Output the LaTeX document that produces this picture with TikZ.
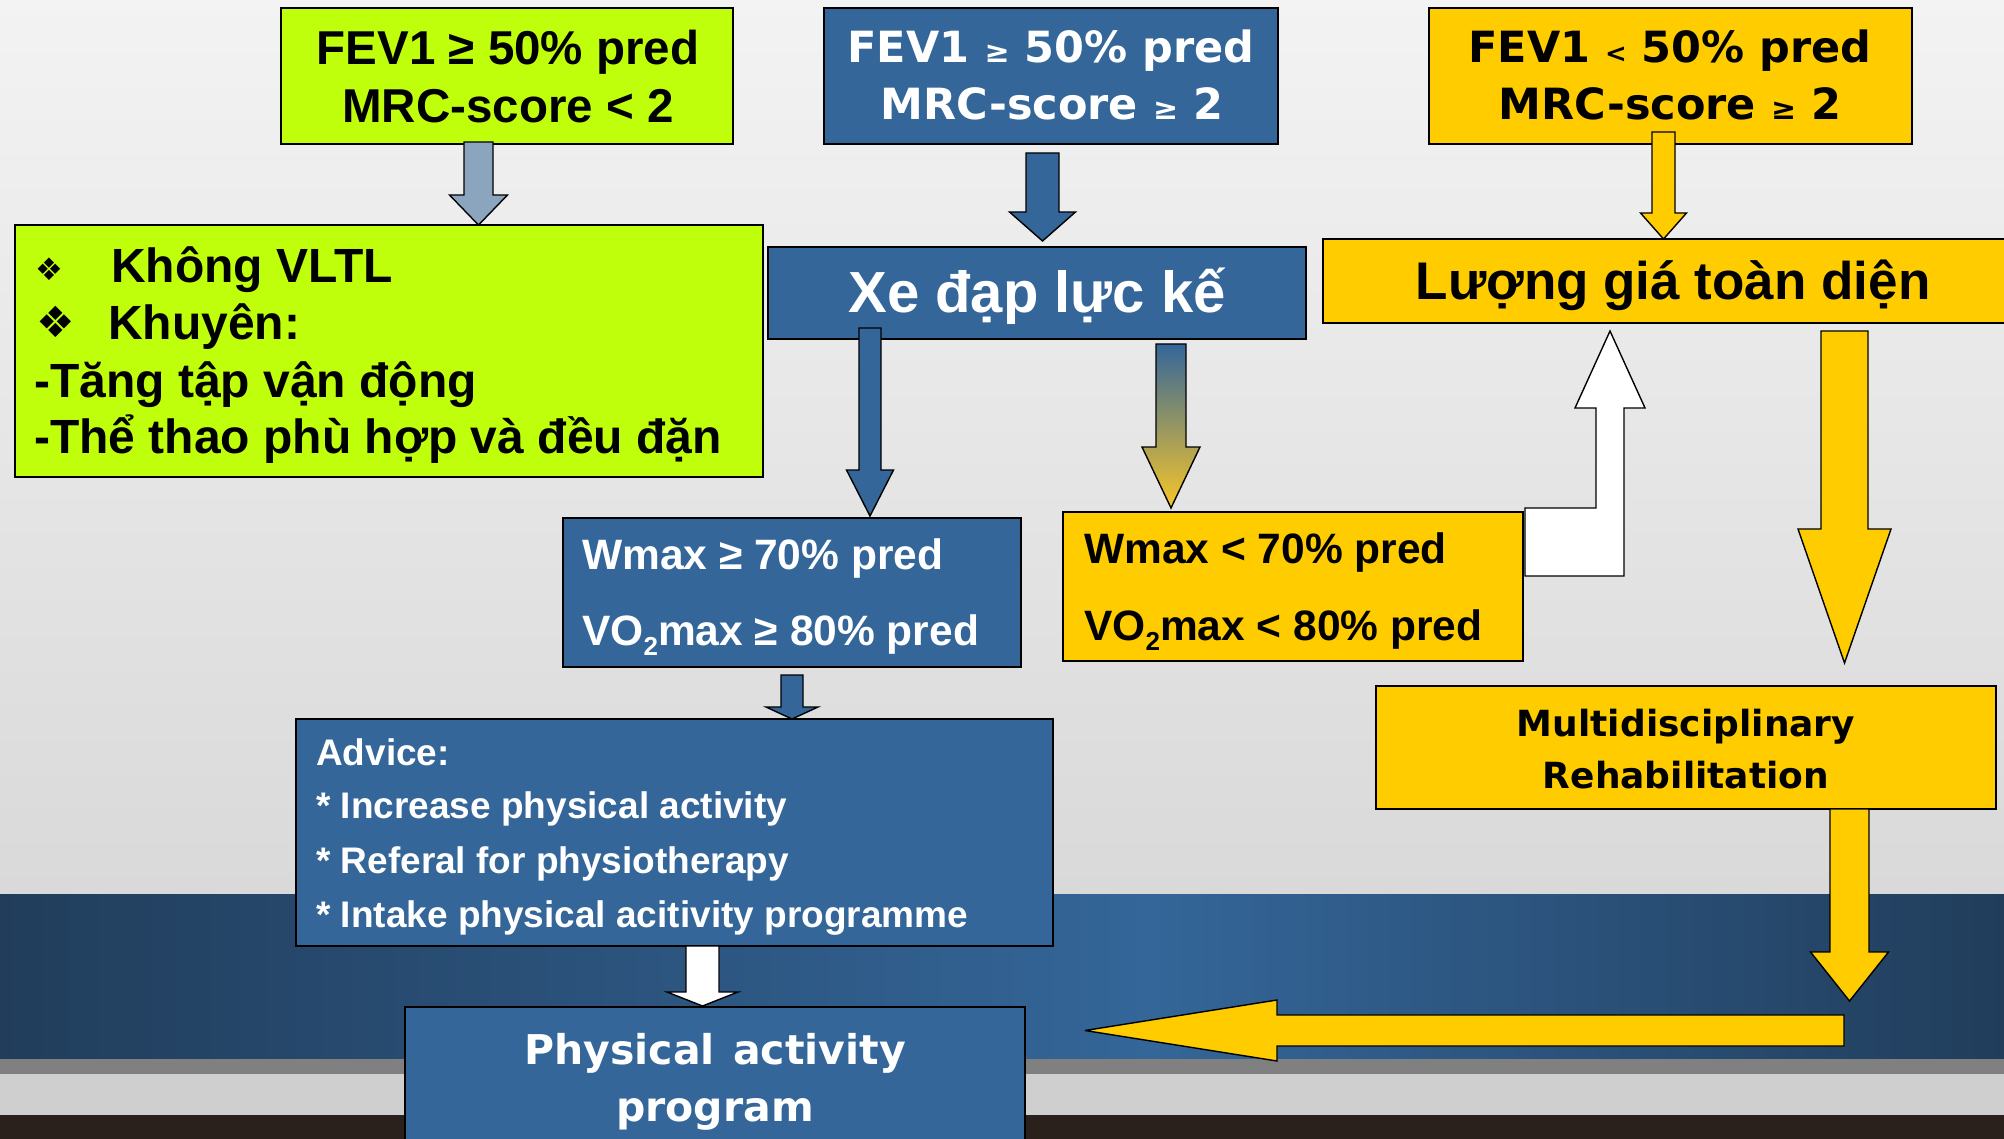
\documentclass[tikz,border=0pt]{standalone}
\usepackage{fontspec}
\setmainfont{Liberation Sans}
\newfontfamily\comic{DejaVu Sans}
\newfontfamily\dvs{DejaVu Sans}
\usetikzlibrary{calc}
\definecolor{limeg}{HTML}{C0FF0C}
\definecolor{pblue}{HTML}{346699}
\definecolor{pyel}{HTML}{FFCC00}
\definecolor{gblue}{HTML}{8CA5BE}
\definecolor{goldc}{HTML}{F7C62A}
\definecolor{bandd}{HTML}{213D5B}
\definecolor{bgtop}{HTML}{F3F3F3}
\definecolor{bgbot}{HTML}{D9D9D9}
\definecolor{stripc}{HTML}{808080}
\definecolor{lgrey}{HTML}{CFCFCF}
\definecolor{dbrown}{HTML}{2B211C}
% vertical block arrow pointing down: style, from, to, shaft half, head half, head length
\newcommand\barrdown[6]{\path[#1] let \p1=(#2), \p2=(#3) in
  (\x1-#4,\y1) -- (\x1-#4,\y2+#6) -- (\x1-#5,\y2+#6) -- (\x1,\y2)
  -- (\x1+#5,\y2+#6) -- (\x1+#4,\y2+#6) -- (\x1+#4,\y1) -- cycle;}
% horizontal block arrow pointing left
\newcommand\barrleft[6]{\path[#1] let \p1=(#2), \p2=(#3) in
  (\x1,\y1+#4) -- (\x2+#6,\y1+#4) -- (\x2+#6,\y1+#5) -- (\x2,\y1)
  -- (\x2+#6,\y1-#5) -- (\x2+#6,\y1-#4) -- (\x1,\y1-#4) -- cycle;}
\newcommand\sge{{\fontsize{30}{30}\selectfont ≥}}
\newcommand\slt{{\fontsize{26}{26}\selectfont <}}
\newcommand\subtwo{\raisebox{-10pt}{\fontsize{26}{26}\selectfont 2}}
\begin{document}
\begin{tikzpicture}[x=1pt,y=-1pt,
  box/.style={draw=black, line width=1.8pt, anchor=north west, inner sep=0pt, outer sep=0pt},
  arrw/.style={draw=black, line width=1.4pt, line join=miter, miter limit=6},
  tA/.style={font=\fontsize{47.5}{47.5}\selectfont\bfseries, inner sep=0pt, anchor=base},
  tC/.style={font=\fontsize{43}{43}\selectfont\comic\bfseries, inner sep=0pt, anchor=base},
  tD/.style={font=\fontsize{48}{48}\selectfont\bfseries, inner sep=0pt, anchor=base west},
  tW/.style={font=\fontsize{42.5}{42.5}\selectfont\bfseries, inner sep=0pt, anchor=base west},
  tJ/.style={font=\fontsize{37}{37}\selectfont\bfseries, inner sep=0pt, anchor=base west, text=white},
  tM/.style={font=\fontsize{36}{36}\selectfont\comic\bfseries, inner sep=0pt, anchor=base},
  bul/.style={font=\dvs, inner sep=0pt, anchor=center}
]
\useasboundingbox (0,0) rectangle (2004,1139);
\clip (0,0) rectangle (2004,1139);
% background
\path[top color=bgtop, bottom color=bgbot] (0,0) rectangle (2004,894);
\path[left color=bandd, right color=pblue] (0,894) rectangle (1150,1059);
\path[left color=pblue, right color=bandd] (1149,894) rectangle (2004,1059);
\fill[stripc] (0,1059) rectangle (2004,1074);
\fill[lgrey] (0,1074) rectangle (2004,1115);
\fill[dbrown] (0,1115) rectangle (2004,1139);

% boxes
\node[box, fill=limeg, minimum width=452pt, minimum height=136pt] (A) at (281,8) {};
\node[box, fill=pblue, minimum width=454pt, minimum height=136pt] (B) at (824,8) {};
\node[box, fill=pyel, minimum width=483pt, minimum height=136pt] (C) at (1429,8) {};
\node[box, fill=limeg, minimum width=748pt, minimum height=252pt] (D) at (15,225) {};
\node[box, fill=pblue, minimum width=538pt, minimum height=92pt] (E) at (768,247) {};
\node[box, fill=pyel, minimum width=690pt, minimum height=84pt] (F) at (1323,239) {};
\node[box, fill=pblue, minimum width=458pt, minimum height=149pt] (G) at (563,518) {};
\node[box, fill=pyel, minimum width=460pt, minimum height=149pt] (H) at (1063,512) {};
\node[box, fill=pyel, minimum width=620pt, minimum height=123pt] (I) at (1376,686) {};
\node[box, fill=pblue, minimum width=757pt, minimum height=227pt] (J) at (296,719) {};
\node[box, fill=pblue, minimum width=620pt, minimum height=160pt] (K) at (405,1007) {};

% texts
\node[tA] (A1) at (508,65) {FEV1 ≥ 50\% pred};
\node[tA] (A2) at (508,123) {MRC-score < 2};
\node[tC, text=white] (B1) at (1051,63) {FEV1 \sge{} 50\% pred};
\node[tC, text=white] (B2) at (1052,120) {MRC-score \sge{} 2};
\node[tC] (C1) at (1670,63) {FEV1 \slt{} 50\% pred};
\node[tC] (C2) at (1670,120) {MRC-score \sge{} 2};
\node[bul, font=\dvs\fontsize{31}{31}\selectfont] (Db1) at (49.5,269) {❖};
\node[bul, font=\dvs\fontsize{43}{43}\selectfont] (Db2) at (56,322) {❖};
\node[tD] (D1) at (111,283) {Không VLTL};
\node[tD] (D2) at (108,339) {Khuyên:};
\node[tD] (D3) at (34,397) {-Tăng tập vận động};
\node[tD] (D4) at (34,453) {-Thể thao phù hợp và đều đặn};
\node[tA, font=\fontsize{58}{58}\selectfont\bfseries, text=white] (E1) at (1037,313) {Xe đạp lực kế};
\node[tA, font=\fontsize{53}{53}\selectfont\bfseries] (F1) at (1673,300) {Lượng giá toàn diện};
\node[tW, text=white] (G1) at (582,569) {Wmax ≥ 70\% pred};
\node[tW, text=white] (G2) at (582,645) {VO\subtwo max ≥ 80\% pred};
\node[tW] (H1) at (1084,563) {Wmax < 70\% pred};
\node[tW] (H2) at (1084,640) {VO\subtwo max < 80\% pred};
\node[tM] (I1) at (1686,736) {Multidisciplinary};
\node[tM] (I2) at (1686,788) {Rehabilitation};
\node[tJ] (J1) at (316,765) {Advice:};
\node[tJ] (J2) at (316,818) {* Increase physical activity};
\node[tJ] (J3) at (316,873) {* Referal for physiotherapy};
\node[tJ] (J4) at (316,927) {* Intake physical acitivity programme};
\node[tC, font=\fontsize{41}{41}\selectfont\comic\bfseries, text=white] (K1) at (715,1064) {Physical\hspace{4pt} activity};
\node[tC, font=\fontsize{41}{41}\selectfont\comic\bfseries, text=white] (K2) at (715,1121) {program};

% free ends
\coordinate (turn) at (1849.5,1001);
\coordinate (lstart) at (1844,1030.5);
\coordinate (ltip) at (1085,1030.5);
\coordinate (hs) at ([xshift=2pt,yshift=4pt]H.north east);
\coordinate (ft) at ([xshift=-58pt,yshift=-8pt]F.south);

% connectors (block arrows)
\barrdown{arrw, fill=gblue}{[xshift=-28.5pt,yshift=2pt]A.south}{D.north}{14.5pt}{29pt}{30pt}
\barrdown{arrw, fill=pblue}{[xshift=-8.5pt,yshift=-9pt]B.south}{[yshift=6pt]E.north}{16.5pt}{33pt}{29pt}
\barrdown{arrw, fill=pyel}{[xshift=-7pt,yshift=12pt]C.south}{F.north}{11.5pt}{23pt}{26pt}
\barrdown{arrw, fill=pblue}{[xshift=-167pt,yshift=11pt]E.south}{[yshift=2pt]G.north}{11pt}{23.5pt}{46pt}
\barrdown{arrw, top color=pblue, bottom color=goldc}{[xshift=134pt,yshift=-5pt]E.south}{[yshift=4pt]H.north}{15pt}{29pt}{61pt}
\path[arrw, fill=white] let \p1=(hs), \p2=(ft) in
  (\x1,\y1) -- (\x2-14pt,\y1) -- (\x2-14pt,\y2-77pt) -- (\x2-35pt,\y2-77pt) -- (\x2,\y2)
  -- (\x2+35pt,\y2-77pt) -- (\x2+14pt,\y2-77pt) -- (\x2+14pt,\y1-68pt) -- (\x1,\y1-68pt) -- cycle;
\barrdown{arrw, fill=pyel}{[xshift=176.5pt,yshift=-8pt]F.south}{[yshift=23pt]I.north}{23.5pt}{46.5pt}{134pt}
\barrdown{arrw, fill=pyel}{[xshift=163.5pt]I.south}{turn}{19.5pt}{39pt}{49pt}
\barrleft{arrw, fill=pyel}{lstart}{ltip}{15.5pt}{30.5pt}{192pt}
\barrdown{arrw, fill=pblue}{[yshift=-8pt]G.south}{J.north}{11pt}{26pt}{12pt}
\barrdown{arrw, fill=white}{[xshift=28pt]J.south}{[yshift=1pt]K.north}{16.5pt}{35.5pt}{14pt}
\end{tikzpicture}
\end{document}
